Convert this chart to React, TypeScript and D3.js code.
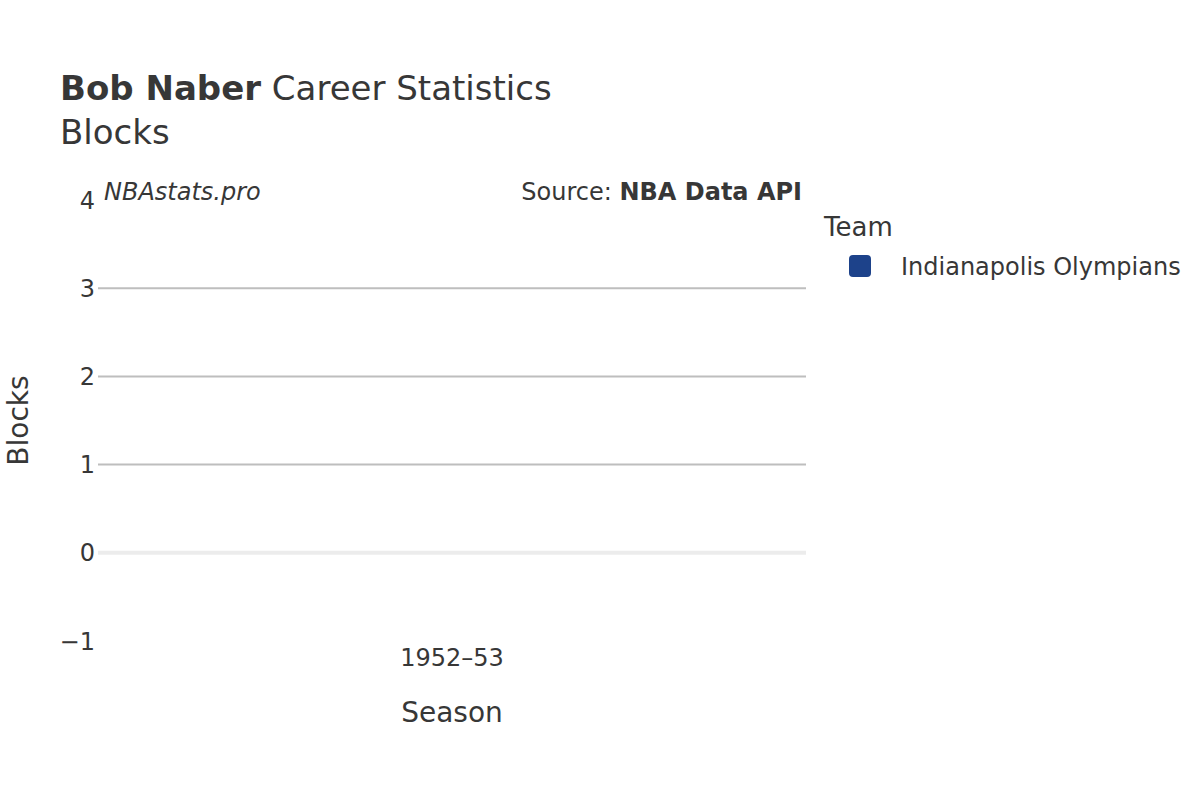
import React, { useEffect, useRef } from 'react';
import * as d3 from 'd3';

// chart data
const playerName = 'Bob Naber';
const statName = 'Blocks';
const seasons = ['1952–53'];
const teams = ['Indianapolis Olympians'];
const blocks = [0];
const teamColors = ['#1d428a'];
const yTicks = [-1, 0, 1, 2, 3, 4];

const W = 1200;
const H = 800;
const textColor = '#373737';
const font = '"DejaVu Sans", sans-serif';

export default function App() {
  const svgRef = useRef<SVGSVGElement>(null);

  useEffect(() => {
    if (!svgRef.current) return;
    const svg = d3.select(svgRef.current);
    svg.selectAll('*').remove();

    const plot = { left: 98, right: 806, top: 200, bottom: 641 };

    const xScale = d3.scaleBand<string>()
      .domain(seasons)
      .range([plot.left, plot.right])
      .padding(0.2);

    const yScale = d3.scaleLinear()
      .domain([yTicks[0], yTicks[yTicks.length - 1]])
      .range([plot.bottom, plot.top]);

    const fmt = d3.format('d');

    svg.append('rect').attr('width', W).attr('height', H).attr('fill', '#fff');

    // grid lines (not at the range edges)
    svg.append('g')
      .selectAll('line')
      .data(yTicks.filter(t => t !== 0 && t > yTicks[0] && t < yTicks[yTicks.length - 1]))
      .enter()
      .append('line')
      .attr('x1', plot.left)
      .attr('x2', plot.right)
      .attr('y1', d => yScale(d))
      .attr('y2', d => yScale(d))
      .attr('stroke', '#bebebe')
      .attr('stroke-width', 2);

    // zero line
    svg.append('line')
      .attr('x1', plot.left)
      .attr('x2', plot.right)
      .attr('y1', yScale(0))
      .attr('y2', yScale(0))
      .attr('stroke', '#ececec')
      .attr('stroke-width', 4);

    // bars
    svg.append('g')
      .selectAll('rect')
      .data(seasons.map((s, i) => ({ season: s, value: blocks[i], team: teams[i] ?? teams[0] })))
      .enter()
      .append('rect')
      .attr('x', d => xScale(d.season) ?? 0)
      .attr('width', xScale.bandwidth())
      .attr('y', d => yScale(Math.max(0, d.value)))
      .attr('height', d => Math.abs(yScale(d.value) - yScale(0)))
      .attr('fill', d => teamColors[teams.indexOf(d.team)]);

    // y tick labels
    svg.append('g')
      .selectAll('text')
      .data(yTicks)
      .enter()
      .append('text')
      .attr('x', 95)
      .attr('y', d => yScale(d))
      .attr('dy', '0.36em')
      .attr('text-anchor', 'end')
      .attr('font-size', 24)
      .attr('fill', textColor)
      .text(d => fmt(d));

    // x tick labels
    svg.append('g')
      .selectAll('text')
      .data(seasons)
      .enter()
      .append('text')
      .attr('x', d => (xScale(d) ?? 0) + xScale.bandwidth() / 2)
      .attr('y', 666)
      .attr('text-anchor', 'middle')
      .attr('font-size', 24)
      .attr('fill', textColor)
      .text(d => d);

    // axis titles
    svg.append('text')
      .attr('x', (plot.left + plot.right) / 2)
      .attr('y', 722)
      .attr('text-anchor', 'middle')
      .attr('font-size', 28)
      .attr('fill', textColor)
      .text('Season');

    svg.append('text')
      .attr('transform', `translate(28, ${(plot.top + plot.bottom) / 2}) rotate(-90)`)
      .attr('text-anchor', 'middle')
      .attr('font-size', 28)
      .attr('fill', textColor)
      .text(statName);

    // title
    const title = svg.append('text')
      .attr('x', 60)
      .attr('y', 100)
      .attr('font-size', 34)
      .attr('fill', textColor);
    title.append('tspan').attr('font-weight', 'bold').text(playerName);
    title.append('tspan').text(' Career Statistics');

    svg.append('text')
      .attr('x', 60)
      .attr('y', 144)
      .attr('font-size', 34)
      .attr('fill', textColor)
      .text(statName);

    // watermark + source
    svg.append('text')
      .attr('x', 104)
      .attr('y', 200)
      .attr('font-size', 24)
      .attr('font-style', 'italic')
      .attr('fill', textColor)
      .text('NBAstats.pro');

    const src = svg.append('text')
      .attr('x', 802)
      .attr('y', 200)
      .attr('text-anchor', 'end')
      .attr('font-size', 24)
      .attr('fill', textColor);
    src.append('tspan').text('Source: ');
    src.append('tspan').attr('font-weight', 'bold').text('NBA Data API');

    // legend
    svg.append('text')
      .attr('x', 824)
      .attr('y', 236)
      .attr('font-size', 26)
      .attr('fill', textColor)
      .text('Team');

    const legend = svg.append('g')
      .selectAll('g')
      .data(teams)
      .enter()
      .append('g')
      .attr('transform', (_, i) => `translate(849, ${255 + i * 38})`);

    legend.append('rect')
      .attr('width', 22)
      .attr('height', 22)
      .attr('rx', 4)
      .attr('fill', (_, i) => teamColors[i]);

    legend.append('text')
      .attr('x', 52)
      .attr('y', 11)
      .attr('dy', '0.36em')
      .attr('font-size', 24)
      .attr('fill', textColor)
      .text(d => d);
  }, []);

  return (
    <svg
      ref={svgRef}
      width={W}
      height={H}
      style={{ position: 'absolute', left: 0, top: 0, fontFamily: font }}
    />
  );
}
